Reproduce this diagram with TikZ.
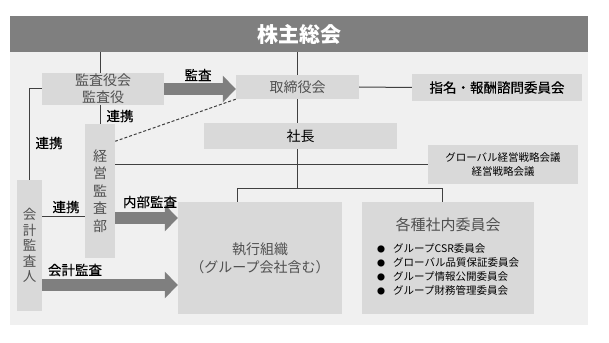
\documentclass[tikz,border=0pt]{standalone}
\usepackage{fontspec}
\setmainfont{Noto Sans CJK JP}
\newfontfamily\tagfont[FakeBold=0.3]{Noto Sans CJK JP}
\usepackage{tikz}
\usetikzlibrary{arrows.meta, calc}
\definecolor{HeadGray}{RGB}{127,127,127}
\definecolor{PanelBG}{RGB}{240,240,240}
\definecolor{BoxGray}{RGB}{217,217,217}
\definecolor{TextGray}{RGB}{80,80,80}
\definecolor{LineGray}{RGB}{64,64,64}

\begin{document}
\begin{tikzpicture}[x=1pt, y=-1pt,
  box/.style={fill=BoxGray, inner sep=0pt, align=center, text=TextGray, font=\fontsize{14}{17}\selectfont},
  tag/.style={inner sep=1pt, font=\tagfont\fontsize{13.5}{16}\selectfont},
  link/.style={LineGray, line width=1pt},
  bigarrow/.style={HeadGray, line width=12pt, -{Triangle[length=13pt, width=26pt]}}]
  \useasboundingbox (0,0) rectangle (609,342);
  \fill[PanelBG] (10,52) rectangle (588,325);
  \node[fill=HeadGray, minimum width=578pt, minimum height=36pt, inner sep=0pt, text=white, font=\fontsize{21}{24}\selectfont\bfseries] (gm) at (299,34) {株主総会};

  \node[box, minimum width=122pt, minimum height=32pt] (kansa) at (103,89) {監査役会\\監査役};
  \node[box, minimum width=123pt, minimum height=24pt] (board) at (297.5,87) {取締役会};
  \node[box, minimum width=170pt, minimum height=27pt, text=black, font=\tagfont\fontsize{13.5}{16}\selectfont] (nom) at (497,87.5) {指名・報酬諮問委員会};
  \node[box, minimum width=193pt, minimum height=26pt, text=black] (pres) at (300.5,136) {社長};
  \node[box, minimum width=150pt, minimum height=39pt, text=black, font=\fontsize{10.5}{14}\selectfont] (strat) at (503,164.5) {グローバル経営戦略会議\\経営戦略会議};
  \node[box, minimum width=30pt, minimum height=134pt, font=\fontsize{14}{17.5}\selectfont] (audit) at (100,191) {経\\営\\監\\査\\部};
  \node[box, minimum width=25pt, minimum height=131pt, font=\fontsize{13.5}{15.5}\selectfont] (auditor) at (29.5,245.5) {会\\計\\監\\査\\人};
  \node[box, minimum width=164pt, minimum height=112pt, font=\fontsize{14}{18}\selectfont] (exec) at (260,258) {執行組織\\（グループ会社含む）};
  \node[box, minimum width=172pt, minimum height=112pt] (comm) at (448,258) {};
  \node[text=TextGray, font=\fontsize{15}{18}\selectfont] (commtitle) at (448,225) {各種社内委員会};
  \node[anchor=west, inner sep=0pt, align=left, font=\fontsize{10.5}{14}\selectfont] (commlist) at (377,270) {%
    \makebox[16pt][l]{\fontsize{8}{8}\selectfont ●}グループCSR委員会\\
    \makebox[16pt][l]{\fontsize{8}{8}\selectfont ●}グローバル品質保証委員会\\
    \makebox[16pt][l]{\fontsize{8}{8}\selectfont ●}グループ情報公開委員会\\
    \makebox[16pt][l]{\fontsize{8}{8}\selectfont ●}グループ財務管理委員会};

  \coordinate (bl) at (237,188);
  \coordinate (bs) at (442,188);
  \coordinate (lk) at (60,216);
  \coordinate (ia) at (140,218);
  \coordinate (aa) at (100,285);
  \draw[link] (gm.south -| audit.north) -- (audit.north |- kansa.north);
  \draw[link] (audit.north |- kansa.south) -- (audit.north);
  \draw[link] (gm.south -| board.north) -- (board.north);
  \draw[link] (board.east) -- (nom.west);
  \draw[link] (board.south) -- (board.south |- pres.north);
  \draw[link] (pres.south -| board.south) -- (bl -| board.south);
  \draw[link] (bl |- exec.north) -- (bl) -- (bs) -- (bs |- comm.north);
  \draw[link] (kansa.west) -| (auditor.north);
  \draw[link] (auditor.east |- lk) -- (audit.west |- lk);
  \draw[link] (audit.east |- strat.west) -- (strat.west);
  \draw[link, dash pattern=on 3pt off 2pt] (board.south west) -- ($(audit.north east)!0.13!(audit.south east)$);

  \draw[bigarrow] (kansa.east) -- (kansa.east -| board.west);
  \draw[bigarrow] (audit.east |- ia) -- (exec.west |- ia);
  \draw[bigarrow] (auditor.east |- aa) -- (exec.west |- aa);

  \node[tag] (l1) at (198,75) {監査};
  \node[tag] (l2) at (120,116) {連携};
  \node[tag] (l3) at (49,143) {連携};
  \node[tag] (l4) at (66,207) {連携};
  \node[tag] (l5) at (150,202) {内部監査};
  \node[tag] (l6) at (75,270) {会計監査};
\end{tikzpicture}
\end{document}
